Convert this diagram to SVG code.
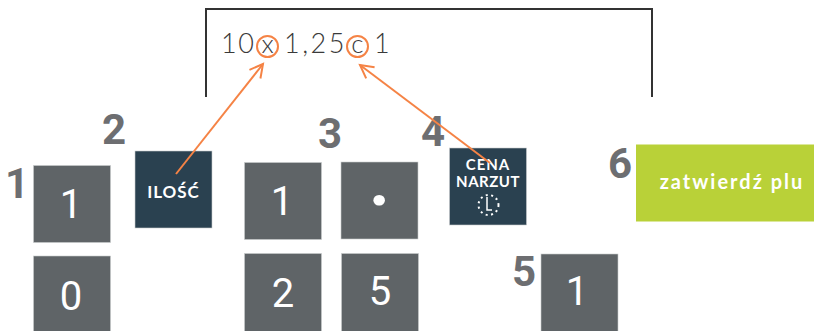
<svg xmlns="http://www.w3.org/2000/svg" width="814" height="331" viewBox="0 0 814 331">
<style>
.key{fill:#5f6467;stroke:#c9cccd;stroke-width:.6}
.dark{fill:#2a4150;stroke:#c9cccd;stroke-width:.6}
.keytxt{font-family:"Roboto",sans-serif;font-weight:400;font-size:40px;fill:#fff;text-anchor:middle}
.num{font-family:"Roboto",sans-serif;font-weight:700;font-size:42px;fill:#6d6e71;text-anchor:middle}
.lab{font-family:"Lato",sans-serif;font-weight:700;fill:#fff;text-anchor:middle}
.formula{font-family:"Lato",sans-serif;font-weight:300;font-size:27px;fill:#3a3a3a}
.op{font-size:26px;text-anchor:middle}
.ring{fill:none;stroke:#f58345;stroke-width:2}
.arrow{fill:none;stroke:#f58345;stroke-width:2;marker-end:url(#head)}
</style>
<defs>
<marker id="head" markerUnits="userSpaceOnUse" markerWidth="20" markerHeight="20" refX="15" refY="10" orient="auto">
<path d="M2 3 L15 10 L2 17" fill="none" stroke="#f58345" stroke-width="2"/>
</marker>
</defs>
<rect width="814" height="331" fill="#fff"/>
<g id="formula">
<path d="M206 97V9H652V97" fill="none" stroke="#333" stroke-width="2"/>
<text class="formula" x="221" y="53" letter-spacing="1.500">10</text>
<circle class="ring" cx="267.500" cy="46.500" r="10.500"/>
<text class="formula op" x="267.500" y="53">x</text>
<text class="formula" x="284" y="53" letter-spacing="2.500">1,25</text>
<circle class="ring" cx="357.500" cy="46.500" r="10.500"/>
<text class="formula op" x="357.500" y="53">c</text>
<text class="formula" x="374" y="53">1</text>
</g>
<g id="step1"><text class="num" x="17" y="198">1</text></g>
<g id="key-1a"><rect class="key" x="33.500" y="165.500" width="77" height="77"/><text class="keytxt" x="71" y="218">1</text></g>
<g id="key-0"><rect class="key" x="33.500" y="256" width="77" height="77"/><text class="keytxt" x="71" y="310">0</text></g>
<g id="step2"><text class="num" x="114" y="144">2</text></g>
<g id="key-ilosc"><rect class="dark" x="135" y="151" width="77" height="77"/><text class="lab" x="173.500" y="198" font-size="17" letter-spacing="1">ILOŚĆ</text></g>
<g id="step3"><text class="num" x="330" y="148">3</text></g>
<g id="key-1b"><rect class="key" x="244.500" y="162.500" width="77" height="77"/><text class="keytxt" x="282" y="215">1</text></g>
<g id="key-dot"><rect class="key" x="341" y="162" width="77" height="77"/><text class="keytxt" x="379.500" y="205" style="font-size:72px;font-weight:700">.</text></g>
<g id="key-2"><rect class="key" x="244.500" y="253.500" width="77" height="78"/><text class="keytxt" x="283" y="307">2</text></g>
<g id="key-5a"><rect class="key" x="341.500" y="253.500" width="77" height="78"/><text class="keytxt" x="380" y="305">5</text></g>
<g id="step4"><text class="num" x="433" y="146">4</text></g>
<g id="key-cena"><rect class="dark" x="449.500" y="148" width="77" height="77"/>
<text class="lab" x="488" y="170" font-size="15" letter-spacing="1">CENA</text>
<text class="lab" x="488" y="187" font-size="15" letter-spacing=".5">NARZUT</text>
<circle cx="488.500" cy="205" r="10" fill="none" stroke="#fff" stroke-width="2" stroke-dasharray="2 3.500"/>
<path d="M487 197V210H492" fill="none" stroke="#fff" stroke-width="1.500"/></g>
<g id="step5"><text class="num" x="524" y="286">5</text></g>
<g id="key-5b"><rect class="key" x="541" y="254" width="77" height="78"/><text class="keytxt" x="577" y="305">1</text></g>
<g id="step6"><text class="num" x="620" y="178">6</text></g>
<g id="key-ok"><rect x="636" y="144.500" width="180" height="77" fill="#b9d138"/><text class="lab" x="732" y="189" font-size="20" letter-spacing="2">zatwierdź plu</text></g>
<g id="connectors">
<path class="arrow" d="M176 174L263 64"/>
<path class="arrow" d="M490 163L360 65"/>
</g>
</svg>
